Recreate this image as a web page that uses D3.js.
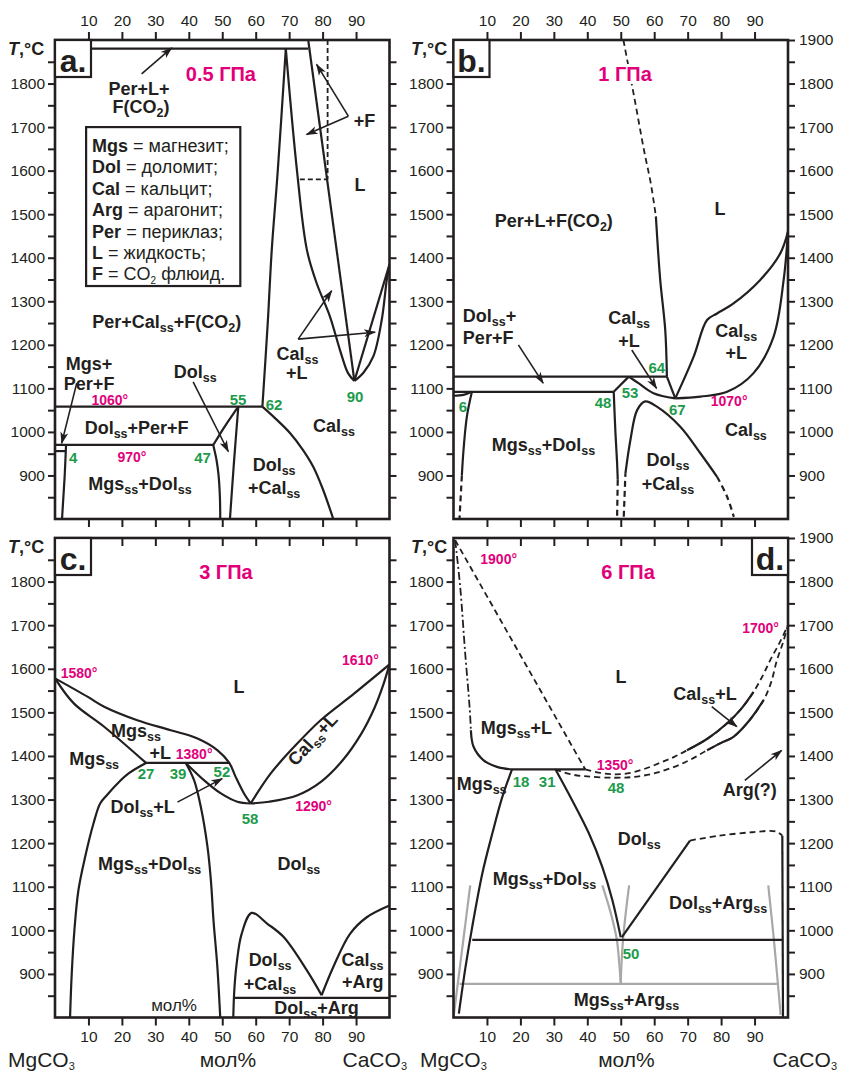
<!DOCTYPE html>
<html><head><meta charset="utf-8">
<script src="https://cdn.jsdelivr.net/npm/d3@7"></script>
<style>body{margin:0;background:#fff} svg{display:block} text{font-family:"Liberation Sans",Arial,sans-serif}</style>
</head><body><svg id="c" width="841" height="1074"></svg>
<script>
// ---------- axis values ----------
const xTickValues = [10,20,30,40,50,60,70,80,90];
const yTickValues = [850,900,950,1000,1050,1100,1150,1200,1250,1300,1350,1400,1450,1500,1550,1600,1650,1700,1750,1800,1850];
const yLabelsLeft = [900,1000,1100,1200,1300,1400,1500,1600,1700,1800];
const yLabelsRight = [900,1000,1100,1200,1300,1400,1500,1600,1700,1800,1900];

// ---------- panel a (0.5 GPa) ----------
const a_perLF = [[0,1880],[75.7,1880]];
const a_calBoundary = [[69,1880],[66.6,1600],[64.8,1418],[63.6,1250],[62,1058]];
const a_liqLeft = [[69,1880],[72.3,1603],[75.3,1418],[78.2,1342],[82.2,1265],[85.2,1188],[87.6,1135],[89.5,1117]];
const a_liqRight = [[75.7,1900],[89.5,1117]];
const a_lensCurve = [[89.5,1117],[92.2,1136],[95.2,1174],[97.7,1258],[99.2,1350],[100,1385]];
const a_lensStraight = [[89.5,1117],[100,1385]];
const a_dashV = [[81.5,1900],[81.5,1580]];
const a_dashH = [[73.2,1580],[81.5,1580]];
const a_h1060 = [[0,1058],[62,1058]];
const a_h970 = [[0,970],[47.3,970]];
const a_h956 = [[0,956],[3.1,956]];
const a_mgsSolvus = [[3.3,970],[2.9,900],[2.5,850],[2.1,800]];
const a_dolLeft = [[47.3,970],[48.3,935],[48.9,900],[49.3,850],[49.4,800]];
const a_dol55to47 = [[54.8,1058],[53,1038],[51.4,1020],[49.4,996],[47.3,970]];
const a_dolRight = [[54.8,1058],[53.5,930],[52.3,800]];
const a_calSolvus = [[62,1058],[66,1030],[70.3,997],[74,960],[77.2,920],[80,870],[83.2,800]];
const a_arrows = [[[25.9,1822],[34.9,1882]],[[87.7,1725],[78.2,1844]],[[87.7,1725],[75.2,1683]],
  [[72.7,1213],[82.7,1324]],[[72.7,1213],[95.7,1229]],[[6.5,1112],[2.0,974]],[[41.3,1115],[51.8,955]]];
const a_labels = [
 {t:"Per+L+",x:25.1,T:1774,k:"ph"},{t:"F(CO{2})",x:25.7,T:1732,k:"ph"},
 {t:"0.5 ГПа",x:49.6,T:1806,k:"title"},{t:"+F",x:92.5,T:1700,k:"ph"},{t:"L",x:91.2,T:1553,k:"ph"},
 {t:"Per+Cal{ss}+F(CO{2})",x:33.4,T:1239,k:"ph"},{t:"Mgs+",x:10.2,T:1142,k:"ph"},{t:"Per+F",x:10.2,T:1096,k:"ph"},
 {t:"1060°",x:16.4,T:1062,k:"tmp"},{t:"Dol{ss}+Per+F",x:24.4,T:995,k:"ph"},{t:"4",x:5.4,T:929,k:"num"},
 {t:"970°",x:23,T:931,k:"tmp"},{t:"47",x:44.1,T:929,k:"num"},{t:"Mgs{ss}+Dol{ss}",x:25.4,T:867,k:"ph"},
 {t:"Dol{ss}",x:41.9,T:1124,k:"ph"},{t:"55",x:54.7,T:1062,k:"num"},{t:"62",x:65.5,T:1050,k:"num"},
 {t:"90",x:89.7,T:1069,k:"num"},{t:"Cal{ss}",x:83.4,T:1000,k:"ph"},{t:"Cal{ss}",x:72.5,T:1165,k:"ph"},
 {t:"+L",x:72.3,T:1121,k:"ph"},{t:"Dol{ss}",x:65.5,T:910,k:"ph"},{t:"+Cal{ss}",x:65.5,T:857,k:"ph"}];
const legendTerms = ["Mgs","Dol","Cal","Arg","Per","L","F"];
const legendDefs = [" = магнезит;"," = доломит;"," = кальцит;"," = арагонит;"," = периклаз;"," = жидкость;"," = CO{2} флюид."];

// ---------- panel b (1 GPa) ----------
const b_dashTop = [[50.8,1900],[54,1770],[57,1645],[59,1570],[60.5,1495]];
const b_liqDol = [[60.5,1495],[61.8,1349],[63.3,1234],[63.8,1127]];
const b_h1127 = [[0,1127],[63.8,1127]];
const b_h1092 = [[0,1092],[47.9,1092]];
const b_leftArc = [[0,1083],[3,1085],[5.5,1092]];
const b_mgsSolvus = [[5.5,1092],[4.0,1035],[3.0,959],[2.5,900]];
const b_mgsSolvusDash = [[2.5,900],[1.8,802]];
const b_dol48 = [[47.9,1092],[48.4,1000],[48.9,930],[49.1,890]];
const b_dol48Dash = [[49.1,890],[48.9,800]];
const b_peak = [[47.9,1092],[52.4,1127]];
const b_calLiqLeft = [[52.4,1127],[55.3,1112],[59.8,1089],[66.3,1077]];
const b_64to67 = [[63.8,1127],[66.3,1077]];
const b_lensUpper = [[66.3,1077],[71.8,1173],[75.8,1257],[78.8,1272],[83.7,1295],[91.7,1349],[97.7,1410],[100,1460]];
const b_lensLower = [[66.3,1077],[73.8,1081],[81.8,1092],[89.7,1135],[95.7,1219],[98.7,1349],[100,1460]];
const b_loop = [[51.4,905],[52.9,982],[54.9,1050],[57.3,1070],[60.8,1058],[67.8,1012],[73.8,951],[78.8,897]];
const b_loopDashL = [[50.9,805],[51.4,905]];
const b_loopDashR = [[78.8,897],[81.8,851],[83.8,805]];
const b_arrows = [[[19.4,1200],[26.8,1112]],[[53.3,1188],[60.7,1100]]];
const b_labels = [
 {t:"1 ГПа",x:51.3,T:1806,k:"title",halo:true},{t:"Per+L+F(CO{2})",x:30,T:1471,k:"ph"},{t:"L",x:79.7,T:1498,k:"ph"},
 {t:"Dol{ss}+",x:2.8,T:1252,k:"ph",a:"start"},{t:"Per+F",x:2.8,T:1202,k:"ph",a:"start"},
 {t:"Cal{ss}",x:52.5,T:1248,k:"ph"},{t:"+L",x:52.5,T:1195,k:"ph"},
 {t:"64",x:60.8,T:1135,k:"num"},{t:"53",x:52.8,T:1078,k:"num"},{t:"48",x:44.7,T:1055,k:"num"},
 {t:"67",x:66.9,T:1039,k:"num"},{t:"6",x:2.8,T:1046,k:"num"},{t:"1070°",x:82.4,T:1060,k:"tmp"},
 {t:"Cal{ss}",x:87.4,T:991,k:"ph"},{t:"Cal{ss}",x:84.5,T:1218,k:"ph"},{t:"+L",x:84.5,T:1167,k:"ph"},
 {t:"Mgs{ss}+Dol{ss}",x:26.9,T:956,k:"ph"},{t:"Dol{ss}",x:64.1,T:922,k:"ph"},{t:"+Cal{ss}",x:64.1,T:867,k:"ph"}];

// ---------- panel c (3 GPa) ----------
const c_liqUpper = [[0,1578],[9.7,1536],[14.7,1513],[24.6,1482],[34.6,1459],[42.6,1440],[48.6,1413],[52.1,1384],[54,1352],[56.5,1314],[58.5,1291]];
const c_mgsSolidus = [[0,1578],[5.7,1520],[14.7,1467],[27.2,1384]];
const c_h1380 = [[27.2,1384],[52.1,1384]];
const c_mgsSolvus = [[27.2,1384],[22,1360],[18.7,1337],[15.5,1310],[13.5,1291],[11.5,1245],[9,1168],[7,1092],[5.8,1000],[5,900],[4.5,800]];
const c_dolSolvus = [[39.1,1384],[41.6,1344],[43.6,1283],[45.6,1191],[46.6,1115],[47.4,1021],[48.5,920],[49.4,800]];
const c_dolLiq = [[39.1,1384],[44.6,1344],[49.6,1314],[54.5,1295],[58.5,1291]];
const c_calUpper = [[58.5,1291],[64.5,1360],[71.5,1421],[79.4,1482],[89.4,1543],[100,1610]];
const c_calLower = [[58.5,1291],[64,1295],[72.5,1310],[79.4,1340],[86,1390],[91.5,1450],[95.5,1510],[98,1560],[100,1610]];
const c_loop = [[53.3,800],[53.6,862],[54.3,923],[55.8,992],[58.8,1040],[63.5,1015],[68.3,985],[75.3,908],[79.7,851]];
const c_calArg = [[79.7,851],[83.2,916],[88.2,992],[93.2,1030],[100,1057]];
const c_h845 = [[53.3,845],[100,845]];
const c_arrows = [[[36.6,1294],[50,1348]]];
const c_labels = [
 {t:"3 ГПа",x:51.1,T:1806,k:"title"},{t:"1580°",x:7.2,T:1578,k:"tmp"},{t:"1610°",x:91.3,T:1608,k:"tmp"},
 {t:"L",x:55,T:1544,k:"ph"},{t:"Mgs{ss}",x:24.2,T:1443,k:"ph"},{t:"+L",x:31.5,T:1392,k:"ph"},
 {t:"1380°",x:41.6,T:1392,k:"tmp"},{t:"Mgs{ss}",x:11.7,T:1379,k:"ph"},{t:"27",x:27.2,T:1347,k:"num"},
 {t:"39",x:36.8,T:1347,k:"num"},{t:"52",x:49.9,T:1351,k:"num"},{t:"Dol{ss}+L",x:26.2,T:1268,k:"ph"},
 {t:"Cal{ss}+L",x:78.4,T:1428,k:"ph",r:-47},{t:"58",x:58.3,T:1245,k:"num"},{t:"1290°",x:77.3,T:1273,k:"tmp"},
 {t:"Mgs{ss}+Dol{ss}",x:28.3,T:1138,k:"ph"},{t:"Dol{ss}",x:72.9,T:1138,k:"ph"},
 {t:"Dol{ss}",x:64.3,T:917,k:"ph"},{t:"+Cal{ss}",x:64.3,T:862,k:"ph"},
 {t:"Cal{ss}",x:91.9,T:917,k:"ph"},{t:"+Arg",x:92,T:867,k:"ph"},
 {t:"Dol{ss}+Arg",x:78.2,T:809,k:"ph"},{t:"мол%",x:35.6,T:816,k:"reg"}];

// ---------- panel d (6 GPa) ----------
const d_dashDot = [[0.5,1895],[2,1788],[3.5,1635],[4.8,1513],[5.2,1459]];
const d_mgsLiq = [[5.2,1459],[6,1421],[9,1390],[13,1375],[17.5,1369]];
const d_h1369 = [[17.5,1369],[39.4,1369]];
const d_dashLong = [[0.5,1895],[39.4,1369]];
const d_outer = [[39.4,1369],[44,1361],[48,1358],[52,1360],[57,1370],[62,1385],[66,1398],[69.8,1413],[76,1440],[81.8,1475],[86,1508],[89.7,1547],[92.5,1585],[94.7,1620],[97.5,1660],[100,1700]];
const d_inner = [[30.4,1369],[35,1358],[40,1353],[48,1350],[54,1352],[60,1360],[66,1375],[71,1392],[75.8,1413],[80,1430],[83.7,1444],[88.5,1482],[92.7,1528],[95,1570],[96.7,1620],[98.5,1660],[100,1700]];
const d_outerSolidRange = [69.8,89.7];
const d_innerSolidRange = [75.8,92.7];
const d_mgsSolvus = [[17.5,1369],[14.6,1306],[11.6,1222],[8.6,1130],[5.6,1008],[3.6,916],[1.6,809]];
const d_dolLeft = [[30.5,1369],[35.5,1298],[40.5,1222],[44.5,1145],[47.5,1069],[50,984]];
const d_dolRight = [[50.3,984],[70.7,1206]];
const d_dolTopDash = [[70.7,1206],[79.4,1217],[89.3,1225],[96.3,1227],[98.3,1217]];
const d_rightVert = [[98.3,1217],[98.5,800]];
const d_h978 = [[5.6,978],[98.4,978]];
const d_gH876 = [[1.8,877],[96.7,877]];
const d_gLeft = [[0,800],[5,1103]];
const d_gMidL = [[44.5,1103],[47,1040],[48.8,980],[49.6,920],[50,877]];
const d_gMidR = [[52.5,1103],[51.5,1040],[50.7,980],[50.2,920],[50,877]];
const d_gRight = [[94.1,1103],[95.8,977],[97.8,806]];
const d_arrows = [[[77.2,1513],[84.7,1467]],[[87.1,1344],[98.1,1413]]];
const d_labels = [
 {t:"1900°",x:13.5,T:1840,k:"tmp"},{t:"6 ГПа",x:52.2,T:1806,k:"title"},{t:"1700°",x:91.8,T:1682,k:"tmp"},
 {t:"L",x:50.1,T:1567,k:"ph"},{t:"Cal{ss}+L",x:75.2,T:1528,k:"ph"},{t:"Mgs{ss}+L",x:18.8,T:1451,k:"ph"},
 {t:"1350°",x:48.3,T:1367,k:"tmp"},{t:"Mgs{ss}",x:8.4,T:1321,k:"ph"},{t:"18",x:20.2,T:1328,k:"num"},
 {t:"31",x:28.0,T:1328,k:"num"},{t:"48",x:48.6,T:1314,k:"num"},{t:"Arg(?)",x:88.6,T:1307,k:"ph"},
 {t:"Dol{ss}",x:55.5,T:1195,k:"ph"},{t:"Mgs{ss}+Dol{ss}",x:27.2,T:1103,k:"ph"},
 {t:"Dol{ss}+Arg{ss}",x:79.1,T:1050,k:"ph"},{t:"50",x:53.1,T:935,k:"num"},{t:"Mgs{ss}+Arg{ss}",x:51.7,T:827,k:"ph"}];

// ---------- drawing ----------
const INK="#231f20", MAG="#e2007a", GRN="#1c9b4b", GRAY="#a8a8a8";
const styles = {
 ph:{size:18,weight:"bold",fill:INK,sub:12.5},
 num:{size:15,weight:"bold",fill:GRN,sub:10},
 tmp:{size:14,weight:"bold",fill:MAG,sub:10},
 title:{size:20,weight:"bold",fill:MAG,sub:12},
 reg:{size:17,weight:"normal",fill:INK,sub:11}
};
const svg = d3.select("#c");
const defs = svg.append("defs");
defs.append("marker").attr("id","ah").attr("viewBox","0 0 12 10").attr("refX",11).attr("refY",5)
  .attr("markerWidth",13).attr("markerHeight",10).attr("markerUnits","userSpaceOnUse").attr("orient","auto")
  .append("path").attr("d","M0,1 L12,5 L0,9 L3,5 Z").attr("fill",INK);

const geom = {
 a:{x:[55,389.5],y:[519,40]},
 b:{x:[453.5,788],y:[519,40]},
 c:{x:[55,389.5],y:[1017.5,538]},
 d:{x:[453.5,788],y:[1017.5,538]}
};
function panel(k){
  const p=geom[k];
  const x=d3.scaleLinear().domain([0,100]).range(p.x);
  const y=d3.scaleLinear().domain([800,1900]).range(p.y);
  defs.append("clipPath").attr("id","clip"+k).append("rect")
    .attr("x",p.x[0]).attr("y",p.y[1]).attr("width",p.x[1]-p.x[0]).attr("height",p.y[0]-p.y[1]);
  const g=svg.append("g");
  const lines=g.append("g").attr("clip-path",`url(#clip${k})`);
  return {k,x,y,g,lines};
}
function path(P,data,o={}){
  const gen=d3.line().x(d=>P.x(d[0])).y(d=>P.y(d[1]))
    .curve(o.linear?d3.curveLinear:d3.curveCatmullRom.alpha(0.5));
  P.lines.append("path").attr("d",gen(data)).attr("fill","none")
    .attr("stroke",o.color||INK).attr("stroke-width",o.w||2.2)
    .attr("stroke-dasharray",o.dash||null).attr("stroke-linejoin","round").attr("stroke-linecap","butt");
}
function arrows(P,list){
  list.forEach(([s,e])=>{
    P.g.append("line").attr("x1",P.x(s[0])).attr("y1",P.y(s[1])).attr("x2",P.x(e[0])).attr("y2",P.y(e[1]))
     .attr("stroke",INK).attr("stroke-width",1.6).attr("marker-end","url(#ah)");
  });
}
function rich(textSel,s,sub,shift){
  const sh=shift||4;
  const parts=s.split(/(\{[^}]*\})/).filter(p=>p.length);
  let down=false;
  parts.forEach(p=>{
    if(p[0]==="{"){
      textSel.append("tspan").attr("dy",down?0:sh).attr("font-size",sub).text(p.slice(1,-1));
      down=true;
    } else {
      const t=textSel.append("tspan").text(p);
      if(down){t.attr("dy",-sh);down=false;}
    }
  });
}
function labels(P,list){
  list.forEach(L=>{
    const st=styles[L.k];
    const px=P.x(L.x), py=P.y(L.T);
    const t=P.g.append("text").attr("x",px).attr("y",py).attr("text-anchor",L.a||"middle")
      .attr("font-size",st.size).attr("font-weight",st.weight).attr("fill",st.fill);
    if(L.r) t.attr("transform",`rotate(${L.r},${px},${py})`);
    if(L.halo) t.attr("stroke","#fff").attr("stroke-width",6).attr("paint-order","stroke");
    rich(t,L.t,st.sub);
  });
}
function axes(P,o){
  const [x0,x1]=P.x.range(), [y1,y0]=P.y.range();
  const style=(sel)=>{sel.select(".domain").remove();
    sel.selectAll("line").attr("stroke",INK).attr("stroke-width",2);
    sel.selectAll("text").attr("font-size",15.5).attr("fill",INK).attr("font-family",'"Liberation Sans",Arial,sans-serif');};
  const fmtX=o.xLabelsTop?(v=>v):(()=>"");
  P.g.append("g").attr("transform",`translate(0,${y0})`)
    .call(o.topIn?d3.axisTop(P.x).tickValues(xTickValues).tickSize(-8).tickFormat(()=>""):
      d3.axisTop(P.x).tickValues(xTickValues).tickSize(8).tickPadding(6).tickFormat(fmtX)).call(style);
  P.g.append("g").attr("transform",`translate(0,${y1})`)
    .call(d3.axisBottom(P.x).tickValues(xTickValues).tickSize(8).tickPadding(5)
      .tickFormat(o.xLabelsBottom?(v=>v):(()=>""))).call(style);
  P.g.append("g").attr("transform",`translate(${x0},0)`)
    .call(d3.axisLeft(P.y).tickValues(yTickValues).tickSize(7).tickPadding(3)
      .tickFormat(v=>yLabelsLeft.includes(v)?v:"")).call(style);
  const rv=o.rightLabels?yTickValues.concat([1900]):yTickValues;
  P.g.append("g").attr("transform",`translate(${x1},0)`)
    .call(d3.axisRight(P.y).tickValues(rv).tickSize(7).tickPadding(4)
      .tickFormat(v=>o.rightLabels&&yLabelsRight.includes(v)?v:"")).call(style);
  P.g.append("rect").attr("x",x0).attr("y",y0).attr("width",x1-x0).attr("height",y1-y0)
    .attr("fill","none").attr("stroke",INK).attr("stroke-width",2.6);
}
function letterBox(P,letter,right){
  const [x0,x1]=P.x.range(), [,y0]=P.y.range();
  const bx=right?x1-36:x0;
  P.g.append("rect").attr("x",bx).attr("y",y0).attr("width",36).attr("height",37)
    .attr("fill","#fff").attr("stroke",INK).attr("stroke-width",2.2);
  P.g.append("text").attr("x",bx+18).attr("y",y0+32).attr("text-anchor","middle")
    .attr("font-size",32).attr("font-weight","bold").attr("fill",INK).text(letter);
}
function tLabel(P,xpos){
  const [,y0]=P.y.range();
  const t=P.g.append("text").attr("x",xpos).attr("y",y0+15).attr("font-size",18).attr("font-weight","bold").attr("fill",INK);
  t.append("tspan").attr("font-style","italic").text("T");
  t.append("tspan").text(",°C");
}
function bottomNames(P,mgX,caX){
  const yb=P.y.range()[0]+49;
  const f=(x,s,anchor)=>{const t=P.g.append("text").attr("x",x).attr("y",yb).attr("font-size",21)
      .attr("fill",INK).attr("text-anchor",anchor); rich(t,s,11,3);};
  f(mgX,"MgCO{3}","start");
  f(P.x(51.7),"мол%","middle");
  f(caX,"CaCO{3}","end");
}

// Panel a
const A=panel("a");
path(A,a_perLF,{linear:true}); path(A,a_calBoundary); path(A,a_liqLeft); path(A,a_liqRight,{linear:true});
path(A,a_lensCurve); path(A,a_lensStraight,{linear:true});
path(A,a_dashV,{linear:true,dash:"5,3",w:1.8}); path(A,a_dashH,{linear:true,dash:"5,3",w:1.8});
path(A,a_h1060,{linear:true}); path(A,a_h970,{linear:true}); path(A,a_h956,{linear:true});
path(A,a_mgsSolvus); path(A,a_dolLeft); path(A,a_dol55to47); path(A,a_dolRight); path(A,a_calSolvus);
axes(A,{xLabelsTop:true});
letterBox(A,"a.");
tLabel(A,8);
arrows(A,a_arrows);
labels(A,a_labels);
// legend
{
  const lx0=A.x(9.3), lx1=A.x(55.4), ly0=A.y(1700), ly1=A.y(1335);
  A.g.append("rect").attr("x",lx0).attr("y",ly0).attr("width",lx1-lx0).attr("height",ly1-ly0)
    .attr("fill","#fff").attr("stroke",INK).attr("stroke-width",2.2);
  legendTerms.forEach((term,i)=>{
    const t=A.g.append("text").attr("x",lx0+6).attr("y",ly0+25+i*21.4).attr("font-size",18).attr("fill",INK);
    t.append("tspan").attr("font-weight","bold").text(term);
    rich(t,legendDefs[i],10);
  });
}

// Panel b
const B=panel("b");
path(B,b_dashTop,{dash:"6,4",w:1.8}); path(B,b_liqDol); path(B,b_h1127,{linear:true}); path(B,b_h1092,{linear:true});
path(B,b_leftArc); path(B,b_mgsSolvus); path(B,b_mgsSolvusDash,{dash:"6,4",linear:true});
path(B,b_dol48); path(B,b_dol48Dash,{dash:"6,4",linear:true}); path(B,b_peak,{linear:true});
path(B,b_calLiqLeft); path(B,b_64to67,{linear:true}); path(B,b_lensUpper); path(B,b_lensLower);
path(B,b_loop); path(B,b_loopDashL,{dash:"6,4",linear:true}); path(B,b_loopDashR,{dash:"6,4"});
axes(B,{xLabelsTop:true,rightLabels:true});
letterBox(B,"b.");
tLabel(B,411);
arrows(B,b_arrows);
labels(B,b_labels);

// Panel c
const C=panel("c");
path(C,c_liqUpper); path(C,c_mgsSolidus); path(C,c_h1380,{linear:true}); path(C,c_mgsSolvus);
path(C,c_dolSolvus); path(C,c_dolLiq); path(C,c_calUpper); path(C,c_calLower);
path(C,c_loop); path(C,c_calArg); path(C,c_h845,{linear:true});
axes(C,{topIn:true,xLabelsBottom:true});
letterBox(C,"c.");
tLabel(C,8);
arrows(C,c_arrows);
labels(C,c_labels);
bottomNames(C,8,407);

// Panel d
const D=panel("d");
[d_gH876,d_gLeft,d_gMidL,d_gMidR,d_gRight].forEach(g=>path(D,g,{color:GRAY,w:2.2}));
path(D,d_dashDot,{dash:"8,3,2,3",w:1.8}); path(D,d_mgsLiq); path(D,d_h1369,{linear:true});
path(D,d_dashLong,{linear:true,dash:"6,4",w:1.8});
path(D,d_outer,{dash:"6,4",w:1.8}); path(D,d_inner,{dash:"6,4",w:1.8});
path(D,d_outer.filter(p=>p[0]>=d_outerSolidRange[0]&&p[0]<=d_outerSolidRange[1]));
path(D,d_inner.filter(p=>p[0]>=d_innerSolidRange[0]&&p[0]<=d_innerSolidRange[1]));
path(D,d_mgsSolvus); path(D,d_dolLeft); path(D,d_dolRight,{linear:true});
path(D,d_dolTopDash,{dash:"6,4",w:1.8}); path(D,d_rightVert,{linear:true}); path(D,d_h978,{linear:true});
axes(D,{topIn:true,xLabelsBottom:true,rightLabels:true});
letterBox(D,"d.",true);
tLabel(D,411);
arrows(D,d_arrows);
labels(D,d_labels);
bottomNames(D,420,837);
</script></body></html>
